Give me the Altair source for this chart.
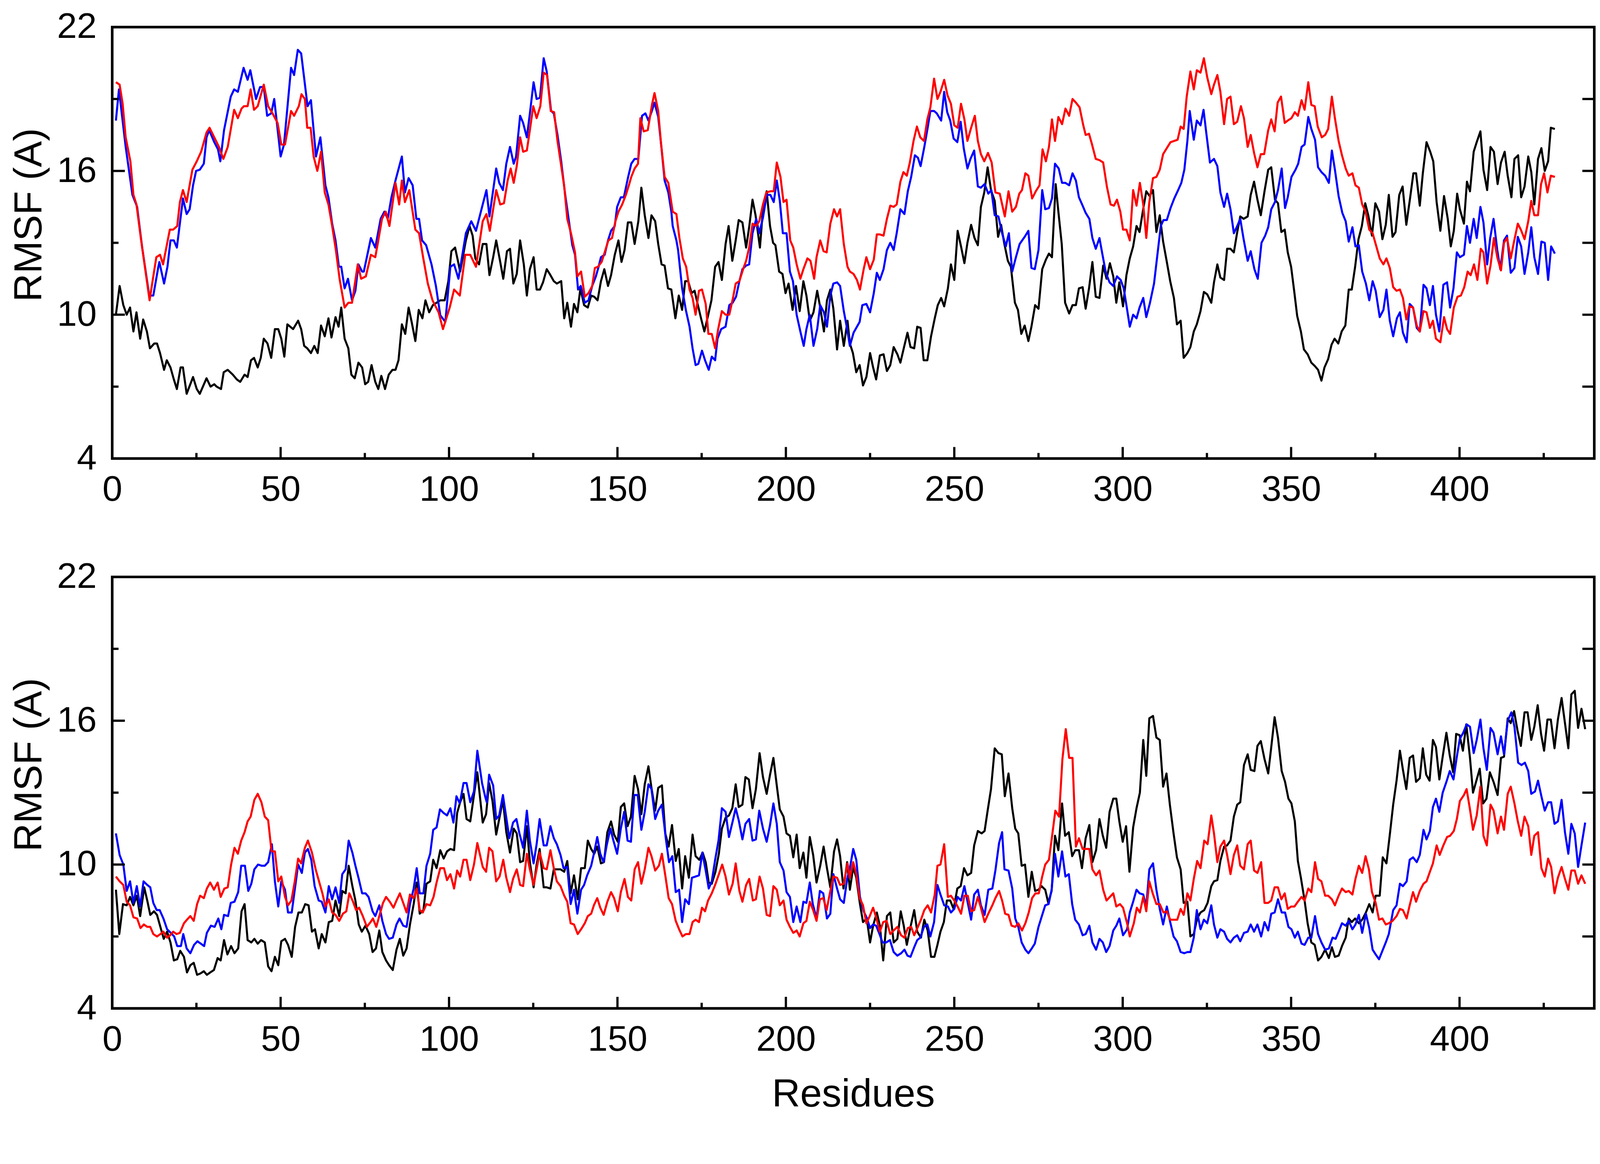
import altair as alt
import pandas as pd

# ---------------- data (residue, RMSF) ----------------
TOP_BLACK = [(1.1,10.0),(2.2,11.2),(3.3,10.4),(4.3,10.0),(5.3,10.3),(6.3,9.3),(7.2,10.1),(8.3,9.0),(9.2,9.8),(10.3,9.3),(11.2,8.6),(12.5,8.8),(13.3,8.8),(14.2,8.4),(15.4,7.7),(16.2,8.1),(17.3,7.8),(18.3,7.3),(19.2,6.9),(20.3,7.8),(21,7.8),(22.1,6.7),(24,7.4),(25.1,6.9),(26,6.7),(28,7.35),(29.2,7.0),(30.3,7.1),(31,7.0),(32.3,6.9),(33.1,7.6),(34.3,7.7),(35.8,7.5),(37,7.3),(38,7.2),(39.3,7.5),(40.2,7.4),(41.2,8.1),(42.1,8.2),(43.2,7.8),(44.1,8.2),(45,9.0),(46.1,8.8),(47.2,8.2),(48.3,9.4),(49.3,9.4),(50.2,9.0),(51.1,8.25),(52,9.6),(53.7,9.4),(55.2,9.75),(56.1,9.4),(57,8.7),(57.9,8.6),(59,8.4),(60,8.7),(61,8.4),(62,9.55),(63.1,9.1),(64.2,9.85),(65.1,9.05),(66.3,9.9),(67.2,9.5),(68,10.3),(69,9.0),(70.1,8.6),(71,7.5),(72,7.35),(73.1,8.0),(74.2,7.8),(75.1,7.1),(76,7.2),(77,7.9),(78.1,7.2),(79,6.9),(79.9,7.45),(81,6.9),(82.1,7.5),(83.2,7.7),(84.1,7.7),(85,8.1),(86,9.6),(87,9.2),(88,10.3),(88.9,9.7),(90,8.9),(91,10.2),(92.1,9.85),(93,10.6),(94.1,10.1),(95.2,10.4),(96.3,10.5),(97.4,10.6),(98.7,10.6),(99.8,11.4),(100.7,12.65),(101.8,12.8),(103.3,11.8),(105,13.1),(106.1,13.7),(107,13.3),(107.8,12.35),(108.9,12.1),
 (110,12.95),(111.1,12.95),(112,11.65),(113.1,12.4),(114,13.1),(115.2,12.2),(116.1,11.5),(117.2,12.65),(118.1,12.75),(119.1,11.3),(120.1,11.7),(121.1,13.1),(122.2,12.1),(123.1,10.8),(124,11.9),(125.1,12.4),(126,11.05),(127,11.05),(127.9,11.35),(129,11.9),(129.9,11.7),(131.1,11.4),(132,11.3),(133.3,11.4),(134.2,9.85),(135.1,10.5),(136.2,9.5),(137.1,10.45),(138.1,10.1),(139,11.1),(140.1,10.4),(141.2,10.3),(142.2,10.8),(143.1,10.75),(144.1,10.6),(145.1,11.4),(146.1,11.9),(147.2,11.2),(148.1,11.65),(149.2,12.5),(150.3,13.1),(151.2,12.2),(152.1,12.7),(153.1,13.85),(154.1,13.85),(155.1,12.95),(156.2,13.9),(157.1,15.3),(158.1,14.15),(159.2,13.2),(160.1,14.15),(161.2,13.9),(162.1,12.95),(163.1,12.1),(164,12.05),(165,11.1),(166,11.05),(167.2,9.85),(168.2,10.8),(169.2,10.2),(170.1,11.4),(171,11.4),(172,10.9),(172.9,11.0),(173.8,10.45),(174.9,9.8),(175.8,9.3),(176.8,9.9),(177.9,10.6),(179,12.0),(180,12.2),(181,11.45),(182.1,12.95),(183,13.7),(184.1,12.25),(185.1,13.1),(186,13.95),(187.1,13.85),(188.2,12.8),(189.1,13.65),(190.1,14.8),(191,14.15),(192.3,12.8),(193.2,14.4),(194.3,15.15),(195.3,13.7),(196.2,13.0),(196.9,12.9),(198,11.8),(199,11.7),(199.9,10.9),(200.8,11.3),(202,10.2),(203,11.2),(204.1,10.15),(205.2,11.4),(206.1,10.8),(207.1,9.75),(208.2,10.1),(209.3,11.0),(210.2,10.3),(211.3,9.3),(212.2,10.6),(213.2,11.05),(214.1,10.25),(215.2,8.55),(216.1,9.75),(217.2,8.7),(218.3,9.75),
 (219,8.8),(219.9,8.4),(220.9,7.6),(221.9,7.9),(222.9,7.05),(223.9,7.4),(225,8.4),(225.9,7.8),(226.8,7.3),(227.9,8.3),(229,8.35),(230,7.65),(231,7.9),(232,8.65),(233.1,8.35),(234,8.0),(235,8.6),(236.1,9.25),(237,8.65),(238.1,8.6),(239,9.5),(240,9.45),(240.9,8.1),(242,8.1),(243.1,9.1),(244.2,9.85),(245.1,10.4),(246.1,10.7),(247,10.35),(248.1,11.1),(249,12.1),(250,11.45),(251,13.5),(252,12.85),(253,12.15),(253.9,13.0),(255,13.75),(256,13.2),(257,12.9),(257.9,14.5),(258.9,15.1),(259.9,16.15),(260.9,15.2),(262,14.75),(263,13.25),(263.9,13.75),(264.8,13.0),(265.9,12.25),(266.8,12.0),(268,10.5),(268.9,10.2),(269.9,9.2),(270.9,9.55),(272,8.9),(272.9,9.5),(274,10.4),(275,10.25),(276.1,11.9),(277.2,12.3),(278.1,12.55),(279,12.4),(280.1,15.45),(280.9,14.3),(281.9,12.95),(282.9,10.5),(284.1,10.05),(285.1,10.4),(286.1,10.4),(287,11.1),(288.1,11.15),(289,10.25),(290,11.1),(291,12.2),(292,10.75),(293.1,10.7),(294.2,12.05),(295.2,11.5),(296.2,12.15),(297.2,11.6),(298.1,10.5),(299,11.35),(300.1,10.35),(301.1,11.65),(302.1,12.35),(303.1,12.85),(304.1,13.7),(305,13.45),(305.9,14.25),(307,15.15),(308,14.95),(309,15.2),(310,13.45),(311,14.15),(312,13.05),(313.1,12.2),(314.1,11.4),(315.2,10.7),(316.1,9.6),(317.2,9.75),(318.1,8.2),(319.2,8.4),(320.1,8.65),(321.1,9.3),(322,9.6),(323.1,10.15),(324.1,10.95),(325.1,10.85),
 (326.3,10.5),(327.1,11.35),(328.1,12.1),(329,11.55),(330.1,11.45),(331,12.75),(332,12.75),(333,12.6),(334,13.45),(334.9,14.1),(335.9,14.0),(337.1,14.1),(338,15.0),(339,15.55),(340,14.8),(341,14.15),(342.1,15.15),(343.2,16.05),(344.1,16.15),(345.2,14.8),(346.1,14.65),(347.1,13.45),(348.1,13.55),(349,12.6),(350,12.0),(350.9,11.0),(351.8,9.95),(352.9,9.3),(353.8,8.55),(354.9,8.35),(356,8.0),(357.1,7.85),(358,7.7),(359,7.25),(359.9,7.8),(361,8.15),(362,8.75),(362.9,9.0),(364,8.8),(365,9.3),(366.1,9.55),(367.1,11.05),(368,11.05),(369,12.0),(370,13.15),(371,13.7),(372,14.65),(372.9,14.15),(374,13.3),(375,14.65),(376.1,14.3),(377.1,13.15),(378.1,13.75),(379,15.0),(380.1,13.25),(381,13.45),(382.1,15.0),(383.1,15.35),(384.2,13.75),(385.3,14.85),(386.3,15.9),(387.1,15.9),(388.2,14.55),(389.1,15.9),(390.2,17.2),(391.3,16.8),(392.2,16.4),(393.2,14.7),(394.3,13.5),(395.4,14.95),(396.5,14.0),(397.4,12.85),(398.3,13.5),(399.3,15.05),(400.1,14.4),(401.3,13.8),(402.2,15.55),(403.1,15.15),(404.2,16.8),(405.1,17.2),(406.2,17.65),(407.1,16.05),(408.2,15.2),(409.2,17.0),(410.2,16.8),(411.3,15.45),(412.3,16.35),(413.4,16.8),(414.3,15.8),(415.4,14.9),(416.3,16.5),(417.4,16.65),(418.3,14.9),(419.3,15.35),(420.4,16.6),(421.3,15.95),(422.2,14.6),(423.3,16.5),(424.3,16.95),(425.3,16.0),(426.3,16.4),(427.1,17.8),(428.3,17.75)]

TOP_BLUE = [(1.1,18.1),(2,19.4),(4,17.0),(6,15.0),(7.4,14.5),(8.9,12.8),(11,10.8),(12.2,10.8),(13.7,12.0),(14,12.2),(15.4,11.3),(16.4,12.0),(17.3,13.1),(18.3,13.1),(19.2,12.8),(20.7,14.5),(21,14.85),(22.1,14.2),(23,14.4),(24,15.4),(24.9,16.0),(26,16.05),(27.2,16.3),(28,17.4),(28.8,17.7),(30.3,17.2),(31.4,16.9),(32.1,16.4),(33.2,17.7),(35.2,19.1),(36.2,19.4),(37.3,19.3),(39,20.3),(40.2,19.8),(41,20.2),(42.7,19.0),(43.9,19.5),(45,19.5),(46,18.3),(47.2,18.4),(48.1,19.0),(50,16.6),(51,17.1),(53.1,20.3),(54,20.0),(55.1,21.05),(56.1,20.9),(58,18.7),(59,18.95),(60.5,16.6),(61.8,17.4),(63.3,15.4),(64.2,14.9),(65.3,13.8),(66.3,13.1),(67.3,12.0),(68,12.0),(69,11.1),(70,11.5),(71.2,10.6),(72.2,11.0),(73.1,12.1),(74.2,11.8),(74.7,11.8),(76.8,13.2),(78.1,12.8),(79.7,14.0),(80.8,14.3),(81.8,14.0),(82.9,14.9),(84.1,15.6),(86,16.6),(86.9,15.1),(88,15.7),(89.2,15.4),(90.3,14.0),(91.1,14.0),(92,13.1),(93.2,12.9),(94.8,12.1),(96.1,11.2),(97.4,9.98),(98.9,9.7),(100.4,12.0),(101.5,12.1),(102.8,11.5),(105,13.4),(106.6,13.9),(108,13.5),
 (110,14.6),(111.1,15.2),(112,14.1),(112.9,15.0),(114,16.1),(114.9,15.5),(116,15.2),(117,16.3),(118.1,17.0),(119.2,16.3),(119.9,16.6),(121.1,18.3),(122,18.0),(123.1,17.4),(124,18.4),(125.1,19.7),(126,19.0),(127,19.05),(128.1,20.7),(129,20.15),(130.3,18.5),(131.1,18.4),(132.2,17.5),(133.3,16.4),(134.4,15.1),(135.5,14.0),(136.6,12.9),(137.4,12.5),(138.3,11.05),(139.1,11.2),(140.3,10.5),(141.4,10.6),(142.5,11.2),(143.6,11.6),(144.4,12.0),(145.1,12.4),(146.2,12.5),(147.2,13.1),(148.1,13.5),(149.2,13.7),(149.9,14.5),(151,14.9),(151.9,14.9),(153.1,15.7),(154.1,16.3),(155.1,16.5),(156.2,16.5),(157.3,18.3),(158.3,18.4),(159.2,18.1),(160.1,18.45),(161,18.85),(162.1,18.25),(163,17.05),(164,15.6),(165.1,15.1),(166,14.3),(166.4,13.7),(167.5,13.1),(168,12.7),(169.2,11.1),(170.3,10.2),(171.4,9.5),(172.3,8.6),(173.2,7.9),(174,7.95),(175.1,8.5),(176,8.1),(177.1,7.7),(178,8.25),(179,8.1),(179.7,9.0),(180.8,9.4),(182.1,9.5),(183.2,10.4),(184.2,10.5),(185.2,10.75),(186.2,11.4),(187.1,11.9),(188.2,12.05),(189.1,12.1),(190.1,13.4),(191.2,14.0),(192.1,13.4),(193.2,14.05),(194.3,15.0),(195.4,15.0),(196.4,14.7),(197.3,15.6),(198.2,14.75),(199.1,13.4),(200.2,13.4),(201.2,11.8),(202.1,11.4),(203.2,10.0),(204.3,9.3),(205.3,8.7),(206.1,9.4),(207.1,10.0),(208.2,8.7),(209.3,9.4),(210.2,10.4),(211.3,10.1),(212.2,9.5),(213.2,10.8),(214.1,11.3),(215.2,11.35),(216.1,11.2),(217.2,10.15),(218.2,9.4),
 (219,8.7),(220.1,9.25),(221.9,9.7),(222.7,10.4),(223.9,10.45),(225,10.1),(226.1,10.9),(227,11.75),(227.9,11.45),(229,11.9),(230,12.7),(231,13.0),(232,12.7),(232.9,13.4),(234,14.4),(235.2,14.2),(236.2,15.15),(237.2,15.75),(238.3,16.65),(239.2,16.55),(240,16.2),(241.1,17.0),(242.1,17.8),(242.9,18.5),(244,18.5),(244.8,18.4),(246.1,18.1),(247,19.3),(247.9,18.45),(248.8,18.1),(249.8,17.35),(250.9,17.2),(251.9,18.05),(252.8,16.95),(253.9,16.1),(254.8,16.5),(255.9,16.85),(257,15.35),(257.9,15.3),(259,15.45),(260.1,15.05),(261,15.2),(262,14.15),(263.1,14.1),(264.2,13.4),(265.3,12.85),(266.2,13.4),(267.2,11.8),(268.3,12.4),(269.4,12.95),(270.9,13.25),(272,13.5),(272.9,11.95),(273.9,11.9),(275,12.7),(276.1,15.2),(277,14.4),(278.1,14.45),(279,14.85),(279.9,16.3),(281,16.1),(282,15.5),(283,15.5),(284.1,15.4),(285.1,15.9),(286.1,15.6),(287,14.9),(288.1,14.55),(289,14.25),(290.1,14.0),(291,13.2),(292,12.75),(293.1,13.2),(294,12.5),(295,11.75),(296.1,11.35),(297.2,11.2),(298.3,11.6),(299.4,11.45),(300.3,11.1),(301.1,10.4),(302.1,9.5),(303.1,10.0),(304.1,9.85),(305,10.3),(306.1,10.7),(307,9.9),(308.1,10.5),(309.3,11.3),(310.3,12.5),(311.3,13.7),(312.1,13.95),(313.1,13.95),(314.2,14.45),(315.3,14.85),(316.3,15.15),(317.4,15.5),(318.3,16.05),(319.2,17.25),(319.9,18.5),(321.1,17.3),(322,18.1),(323.1,17.9),(324,18.55),(324.8,17.6),(325.9,16.35),
 (327.1,16.5),(328.1,16.2),(329,15.1),(330.1,14.5),(331,15.05),(332,14.4),(333,13.4),(334,13.7),(334.9,14.0),(335.9,13.15),(337.1,12.25),(338,12.65),(339.1,11.9),(340.1,11.5),(341.2,13.0),(342.3,13.3),(343.2,13.65),(344.1,14.4),(345.2,14.7),(346.1,15.2),(347.2,16.1),(348.2,14.45),(349,14.9),(350.1,15.75),(351.3,16.05),(352.1,16.3),(353.1,17.0),(354,17.1),(355.1,18.25),(356,17.75),(357.1,17.3),(358,16.15),(359,15.95),(360.1,15.8),(361.2,15.5),(362.1,16.85),(363,16.05),(364.1,14.95),(365.2,14.25),(366.2,13.9),(367.1,13.05),(368.2,13.65),(369.1,12.85),(370.1,12.9),(371.1,11.8),(372.2,11.3),(373.2,10.6),(374.2,11.4),(375.1,11.0),(376.3,9.9),(377.4,10.2),(378.3,11.05),(379.3,9.75),(380.3,9.1),(381.4,9.85),(382.3,10.1),(383.2,9.25),(384.3,8.85),(385.2,10.45),(386.2,10.3),(387.3,9.45),(388.2,9.3),(389.3,11.25),(390.2,11.1),(391.2,10.4),(392.1,11.2),(393,10.0),(394,9.3),(395.2,11.25),(396.3,11.35),(397.2,10.3),(398.2,11.1),(399.2,12.6),(400.1,12.4),(401.3,12.5),(402.2,13.7),(403.1,13.0),(404.2,14.0),(405.1,13.2),(406.2,14.5),(407.1,13.85),(408.2,12.1),(409.1,13.2),(410.1,14.0),(411.2,12.7),(412.1,11.9),(413.2,13.1),(414.1,13.3),(415.2,11.75),(416.3,11.95),(417.3,13.25),(418.3,12.85),(419.3,11.7),(420.4,12.6),(421.3,13.65),(422.2,12.4),(423.3,11.7),(424.3,13.05),(425.3,13.0),(426.3,11.45),(427.2,12.85),(428.3,12.55)]

TOP_RED = [(1.1,19.7),(2.2,19.6),(3.1,18.8),(4,17.4),(5.4,16.4),(6.3,15.0),(7.2,14.6),(8.5,13.2),(9.6,12.1),(11.1,10.6),(12.2,11.6),(13.1,12.4),(14.2,12.5),(15.1,12.1),(17.1,13.55),(18.1,13.55),(19.3,13.7),(20.1,14.7),(21,15.2),(22.1,14.7),(23.8,16.05),(25.1,16.4),(26.4,16.8),(28,17.6),(28.9,17.8),(30.3,17.4),(31.7,17.0),(33,16.5),(34.3,17.0),(36.2,18.55),(37.3,18.2),(38.4,18.6),(39.1,18.7),(40.2,18.7),(41.1,19.4),(42.1,18.55),(43.2,18.7),(45,19.6),(46.3,18.7),(47.6,18.4),(49.1,18.0),(50.2,17.1),(51.3,17.1),(53.1,18.5),(54,18.3),(55.4,18.7),(56.2,19.2),(57.2,19.0),(57.9,17.8),(58.9,17.8),(59.8,16.6),(60.9,16.0),(62,16.8),(63.1,15.1),(64.2,14.6),(65.3,13.7),(66.4,12.7),(67.5,11.5),(69,10.3),(70.1,10.5),(71.2,10.5),(72.9,12.1),(73.9,11.5),(75.3,11.6),(76.8,12.5),(78.1,12.4),(79,13.1),(80.1,14.0),(81.2,14.3),(82.3,13.7),(84.1,15.5),(85.2,14.6),(86,15.6),(86.9,14.7),(88.2,15.2),(90,13.55),(91.1,13.4),(92.3,12.4),(93.7,11.3),(95.1,10.6),(96.9,10.1),(98.2,9.4),(100.2,10.3),(101.5,11.05),(103.2,10.8),(104.8,12.5),(106.3,12.5),(108,12.0),
 (110,13.9),(111.1,14.2),(112.1,13.5),(113.1,14.4),(114,15.2),(115.2,14.6),(116.3,14.65),(117.4,15.6),(118.3,16.1),(119.2,15.5),(120.1,16.2),(121.1,17.4),(122,16.8),(123.1,16.85),(124,17.7),(125,18.7),(126,18.2),(127.1,18.7),(128.1,20.1),(129.1,20.0),(130.2,18.5),(131.2,18.45),(132.2,17.25),(133.1,16.4),(134.2,15.35),(135.1,14.0),(136.2,13.4),(137.4,12.6),(138.1,11.6),(139.2,11.8),(140.3,10.75),(141.4,10.9),(142.5,11.2),(143.3,11.95),(144.2,12.0),(145.3,12.2),(146.2,12.6),(147.3,13.1),(148.4,13.2),(149.4,13.9),(150.3,14.3),(151.4,14.6),(152.5,15.0),(153.5,15.45),(154.1,15.75),(155.1,16.1),(156.1,16.3),(156.8,18.2),(157.8,17.65),(159,17.7),(160.3,18.8),(161,19.25),(162.1,18.5),(162.9,17.2),(164,15.75),(165.1,15.5),(166.4,14.3),(167.5,14.2),(168.4,13.2),(169.4,12.35),(170.4,12.0),(171.4,11.05),(172.3,10.7),(173.2,10.0),(174.2,11.0),(175.1,11.05),(176.2,10.45),(177,9.2),(178,9.2),(179,8.6),(179.9,9.4),(181,10.15),(182.1,10.0),(183.2,10.0),(184.3,10.7),(185.1,11.3),(186.2,11.4),(187.3,11.9),(188.2,12.25),(189.1,12.8),(190.1,13.8),(191.2,13.7),(192.1,13.9),(193.2,14.6),(194.2,15.1),(195.4,15.15),(196.4,15.15),(197.3,16.35),(198.4,15.75),(199.3,14.7),(200.2,14.8),(201.3,13.1),(202.2,12.8),(203.2,12.1),(204.3,11.5),(205.2,11.9),(206.4,12.35),(207.3,12.25),(208.4,11.5),(209.1,12.4),(210.2,13.1),(211.2,12.65),(212.1,12.6),(213.2,13.8),(214.3,14.4),(215.2,14.1),(216.1,14.4),(217.2,12.95),(218.3,12.0),
 (219,11.8),(220.1,11.7),(221.1,11.45),(222,11.05),(223.1,11.9),(223.9,12.4),(225,11.9),(226.1,12.3),(227,13.35),(227.9,13.35),(229,13.3),(230,14.0),(231,14.55),(232,14.5),(232.9,14.6),(234,15.55),(234.9,15.95),(235.9,15.8),(236.8,16.35),(237.9,17.25),(238.9,17.85),(239.9,17.4),(241,17.25),(242,18.15),(242.9,18.65),(244,19.85),(245,19.0),(245.9,19.3),(247,19.8),(248,19.15),(249,18.8),(250,17.9),(251,17.8),(252,18.8),(253,18.15),(253.9,17.25),(255,17.8),(256.1,18.3),(257,17.25),(257.9,16.7),(258.9,16.4),(260,16.75),(261.1,16.35),(262.2,15.1),(263.5,15.05),(265,14.1),(266.1,15.15),(267.2,14.3),(268.3,14.5),(269.3,15.05),(270.1,15.2),(271.1,15.9),(272,15.8),(273.1,14.85),(274.2,15.15),(275.3,15.4),(276.2,16.9),(277.2,16.4),(278.1,17.0),(279,18.15),(279.9,17.25),(280.9,18.25),(282,17.95),(283,18.6),(284.1,18.3),(285.1,19.0),(286.1,18.85),(287.2,18.65),(288.3,17.9),(289,17.5),(290,17.55),(290.9,17.1),(292,16.5),(293.1,16.45),(294.2,16.35),(295.3,15.35),(296.4,14.6),(297.4,14.55),(298.3,14.8),(299.3,14.3),(300.1,13.55),(301.1,13.55),(302.1,13.1),(303.1,15.2),(304.1,14.55),(305.1,15.5),(306.1,14.6),(307,13.2),(307.9,14.7),(309,15.7),(310,15.75),(311,16.05),(312,16.7),(313.1,16.95),(314.2,17.2),(315.3,17.25),(316.3,17.3),(317.2,17.85),(318.1,17.75),(319,19.1),(320.1,20.15),(321.1,19.4),(322,20.2),(323.1,20.1),(324.1,20.7),(325.1,19.9),
 (326.3,19.2),(327.1,19.6),(328.1,20.0),(329,19.3),(330.1,17.95),(331,19.0),(332,19.1),(333,17.95),(334,18.05),(335.1,18.7),(336,18.2),(337.1,17.0),(338,17.5),(339,16.75),(340,16.15),(341,16.7),(342,16.7),(343.2,17.7),(344.1,18.15),(345.1,17.65),(346,18.85),(347,19.1),(348.1,18.0),(349,18.1),(350.1,18.2),(351.1,18.45),(352,18.3),(353.1,18.95),(354,18.55),(355.1,19.7),(356,18.75),(357,18.7),(357.9,17.85),(359.1,17.4),(360.1,17.5),(361,17.75),(362.1,19.1),(363,18.2),(364.1,17.25),(365.1,16.65),(366.2,16.1),(367.1,15.8),(368.2,15.9),(369.1,15.4),(370.1,15.3),(371.1,14.6),(372.1,14.3),(373.2,13.55),(374.2,13.4),(375.1,12.95),(376.3,12.35),(377.4,12.1),(378.3,12.35),(379.3,11.95),(380.3,11.15),(381.3,11.0),(382.3,11.05),(383.2,10.7),(384.2,9.8),(385.1,10.35),(386.2,10.3),(387.3,9.55),(388.2,9.3),(389.3,10.15),(390.2,10.1),(391.2,9.45),(392.1,9.75),(393,9.0),(394.3,8.85),(395.4,9.9),(396.3,9.4),(397.2,9.2),(398.3,10.3),(399.4,10.75),(400.4,10.8),(401.4,11.15),(402.4,11.8),(403.3,11.65),(404.3,12.1),(405.3,11.45),(406.3,12.75),(407.1,12.6),(408.2,11.3),(409.2,12.05),(410.2,13.2),(411.2,12.4),(412.3,11.85),(413.2,13.0),(414.1,13.2),(415.2,12.35),(416.1,13.0),(417.3,13.8),(418.2,13.55),(419.3,13.15),(420.4,13.9),(421.3,14.75),(422.2,14.15),(423.3,14.15),(424.2,15.45),(425.1,15.9),(426.1,15.1),(427.1,15.8),(428.3,15.75)]

BOT_BLACK = [(1.1,8.95),(2.1,7.1),(3.2,8.35),(4.3,8.3),(5.3,8.65),(6.3,8.3),(7.3,8.7),(8.3,7.85),(9.5,9.05),(10.4,8.5),(11.3,7.9),(12.4,8.05),(13.3,7.9),(14.3,7.4),(15.3,6.9),(16.3,7.2),(17.3,6.75),(18.3,6.0),(19.3,6.05),(20.2,6.4),(21.3,6.15),(22.2,5.5),(23.2,5.8),(24.2,5.9),(25.2,5.4),(26.1,5.45),(27.2,5.55),(28.1,5.4),(29.1,5.5),(30.2,5.6),(31.3,6.1),(32.2,6.0),(33.2,6.85),(34.2,6.25),(35.3,6.6),(36.3,6.3),(37.4,6.5),(38.4,8.05),(39.3,8.35),(40.2,6.85),(41.3,6.75),(42.2,6.9),(43.2,6.7),(44.2,6.85),(45.3,6.75),(46.3,5.75),(47.3,5.55),(48.3,6.15),(49.3,5.8),(50.2,6.8),(51.3,6.9),(52.2,6.65),(53.3,6.15),(54.3,7.4),(55.3,8.0),(56.3,8.0),(57.3,8.35),(58.3,8.3),(59.3,7.2),(60.2,7.3),(61.3,6.5),(62.2,7.1),(63.3,6.75),(64.3,7.6),(65.3,7.65),(66.3,8.5),(67.4,7.85),(68.3,8.9),(69.3,8.8),(70.2,9.95),(71.3,9.1),(72.2,8.5),(73.2,7.5),(74.1,7.2),(75.2,7.45),(76.3,7.1),(77.3,6.35),(78.3,6.5),(79.3,7.25),(80.2,6.35),(81.3,6.0),(82.2,5.8),(83.3,5.6),(84.4,6.45),(85.4,6.9),(86.4,6.2),(87.4,6.5),(88.4,7.5),(89.5,8.35),(90.4,9.25),(91.3,7.95),(92.4,8.1),(93.3,9.2),(94.4,9.3),(95.3,10.2),(96.3,9.85),(97.4,10.6),(98.4,10.25),(99.4,10.55),(100.4,10.65),(101.5,10.6),(102.4,12.15),(103.3,12.6),(104.3,12.95),(105.2,11.9),(106.3,11.8),(107.4,12.9),(108.4,13.85),
 (110,11.75),(111,12.1),(111.9,13.4),(112.9,12.65),(114,11.25),(114.9,11.9),(116,12.7),(117,11.35),(118.1,10.5),(119.2,11.5),(120.1,11.3),(121.1,10.1),(122,10.15),(123.1,11.6),(124,10.1),(125.1,9.05),(126,10.0),(126.9,10.65),(128.1,9.05),(129,9.05),(130.1,9.0),(131.1,9.8),(132.2,9.8),(133.1,9.8),(134.2,9.7),(135.1,10.15),(136.1,8.8),(137.1,9.55),(138.2,8.55),(139.2,9.85),(140.3,9.85),(141.2,11.0),(142.2,10.65),(143.1,10.45),(144,10.75),(145.1,10.05),(146,10.1),(147,11.35),(148.1,11.8),(149,11.25),(150.1,10.95),(151,12.4),(152,12.55),(153,11.6),(154,12.0),(155.1,13.7),(156.1,13.15),(157.1,12.1),(158.1,13.35),(159.2,14.1),(160.1,13.2),(161.2,12.25),(162.1,13.2),(163.2,13.3),(164.2,11.3),(165.2,10.75),(166.2,11.65),(167.3,10.15),(168.2,10.65),(169.2,9.0),(170.1,10.35),(171.2,9.45),(172.3,11.25),(173.2,10.35),(174.3,10.2),(175.3,10.5),(176.2,10.1),(177.1,9.25),(178,9.2),(179.1,9.7),(180.1,10.45),(181,11.5),(182.1,11.95),(183.1,12.05),(184.1,12.35),(185.1,13.35),(186,12.4),(187.1,12.5),(188,13.65),(189,13.55),(190.1,12.35),(191.1,13.15),(192.2,14.65),(193.2,13.65),(194.3,12.95),(195.3,13.75),(196.3,14.45),(197.3,13.3),(198.2,12.3),(199.3,12.0),(200.2,11.3),(201.2,11.2),(202.2,10.3),(203.2,11.25),(204.1,9.85),(205.2,10.5),(206.1,9.45),(207.1,11.15),(208.1,10.4),(209.1,9.25),(210.2,9.95),(211.2,10.75),(212.2,9.85),(213.2,9.05),(214.3,10.55),(215.2,11.05),(216.1,10.35),(217.1,9.0),(218.2,10.1),
 (219,8.95),(220,9.9),(220.9,9.45),(222,8.35),(222.9,7.6),(224,7.75),(225,6.75),(225.9,7.45),(227,8.0),(227.9,7.45),(228.9,6.0),(230,7.85),(231,8.0),(232,6.75),(233.1,6.9),(234.1,8.05),(235,7.45),(235.9,6.65),(237,7.4),(238.1,8.1),(239,7.2),(240.1,6.95),(241.1,7.7),(242.1,7.25),(243.1,6.15),(244.1,6.15),(245,6.65),(245.9,7.2),(246.9,7.6),(247.8,8.5),(248.8,8.5),(249.8,8.15),(250.9,9.0),(251.9,9.1),(252.9,9.85),(253.9,9.55),(255,9.65),(255.9,10.8),(257,11.4),(258.1,11.3),(259,11.4),(259.9,12.25),(260.9,13.15),(262,14.85),(263.1,14.65),(264.1,14.6),(265,12.85),(266.1,13.8),(267.2,12.35),(268.1,11.5),(269,11.3),(270,9.95),(271,10.0),(272,8.65),(273,9.7),(274,8.9),(275,8.95),(275.9,9.1),(277,8.95),(277.9,8.4),(278.9,8.9),(279.9,11.2),(280.9,10.6),(282,12.55),(282.9,11.2),(284,11.35),(285,10.35),(285.9,10.6),(287,10.6),(287.9,9.85),(289,11.1),(290.1,11.65),(291,10.1),(292.1,10.6),(293.1,11.9),(294.1,11.2),(295.1,10.7),(296.1,12.2),(297.2,12.75),(298.1,12.75),(299,11.8),(300,10.95),(301,11.6),(302,9.7),(303.1,11.55),(304.1,12.35),(305.1,13.0),(306.1,15.2),(307,13.7),(307.9,16.1),(309,16.2),(310,15.3),(311,15.2),(312,13.25),(313,13.8),(314,12.5),(315.1,11.3),(316.1,10.3),(317.2,9.8),(318.1,8.4),(319.2,8.45),(320.1,7.0),(321.1,7.1),(322.1,7.75),(323.1,8.0),(324.2,8.1),(325.2,8.4),
 (326.3,9.1),(327.1,9.3),(328.1,9.35),(329,10.15),(330.1,10.75),(331,10.8),(332,11.0),(333,12.0),(334,12.5),(334.9,12.6),(336,14.15),(337.1,14.6),(338,13.95),(339.1,13.9),(340,14.95),(341,15.15),(342.1,14.4),(343.2,13.8),(344.1,14.9),(345.1,16.15),(346.1,15.3),(347.2,13.9),(348.2,13.45),(349.2,12.75),(350.1,12.55),(351.1,11.8),(352,10.15),(352.9,9.45),(354,8.5),(354.9,7.55),(356,6.75),(357,6.65),(358,6.0),(359,6.15),(360.1,6.45),(361.2,6.1),(362.1,6.55),(363,6.15),(364.1,6.2),(365.1,6.6),(366.2,6.95),(367.1,7.75),(368,7.6),(369,7.75),(370.1,7.55),(371.1,7.7),(372.2,8.0),(373.2,8.35),(374.2,8.0),(375.1,8.7),(376.3,8.7),(377.2,10.3),(378.3,10.05),(379.3,11.25),(380.3,12.5),(381.3,13.5),(382.3,14.75),(383.2,13.95),(384.2,13.15),(385.2,14.45),(386.2,14.55),(387.1,13.45),(388.2,13.6),(389.1,14.85),(390.1,13.75),(391.1,13.5),(392.1,15.2),(393,14.9),(394,13.55),(395,14.5),(396.1,15.5),(397.1,14.55),(398.1,13.85),(399,15.45),(400,15.4),(401,14.75),(402,15.85),(403.1,14.45),(404,13.0),(405.1,13.55),(406,14.0),(407,12.55),(408,12.75),(409,13.85),(410.1,13.45),(411.3,12.9),(412.3,14.45),(413.2,14.5),(414.3,16.1),(415.2,15.9),(416.2,16.4),(417.2,15.6),(418.2,14.95),(419.3,16.35),(420.2,16.35),(421.3,15.2),(422.2,15.75),(423.2,16.65),(424.2,15.45),(425.1,14.75),(426.1,16.05),(427.1,16.05),(428.2,14.85),(429.2,16.05),(430.3,16.95),(431.3,15.9),(432.3,14.85),(433.2,17.1),(434.2,17.25),(435.2,15.7),(436.2,16.5),(437.3,15.65)]

BOT_BLUE = [(1.1,11.3),(2.2,10.4),(3.3,10.0),(4.3,8.9),(5.3,9.3),(6.3,8.4),(7.3,9.1),(8.3,8.25),(9.3,9.3),(10.4,9.15),(11.3,9.05),(12.2,8.4),(13.2,8.1),(14.1,8.1),(15.2,7.75),(16.3,7.3),(17.4,7.15),(18.4,7.0),(19.3,6.6),(20.4,6.6),(21.1,7.1),(22.1,6.5),(23.2,6.3),(24.3,6.65),(25.3,6.8),(26.3,6.7),(27.3,6.6),(28.1,7.15),(29.3,7.45),(30.4,7.4),(31.5,7.75),(32.4,7.3),(33.2,7.9),(34.4,7.85),(35.2,8.4),(36.3,8.45),(37.4,8.85),(38.3,9.95),(39.4,9.95),(40.4,8.9),(41.3,9.2),(42.2,9.8),(43.3,10.0),(44.4,9.95),(45.3,9.95),(46.3,10.1),(47.4,10.85),(48.3,9.3),(49.3,8.25),(50.2,9.3),(51.3,8.95),(52.2,8.0),(53.3,8.0),(54.2,8.95),(55.2,10.0),(56.3,9.65),(57.2,10.5),(58.1,10.65),(59.1,10.2),(60.1,9.1),(61.3,8.5),(62.2,8.45),(63.3,8.0),(64.3,9.1),(65.3,8.55),(66.3,9.05),(67.4,8.4),(68.3,9.6),(69.3,9.8),(70.2,11.0),(71.3,10.5),(72.2,9.95),(73.2,9.4),(74.2,8.8),(75.2,8.8),(76.1,8.65),(77.3,8.05),(78.1,7.85),(79.3,8.3),(80.2,7.65),(81.3,7.1),(82.2,6.9),(83.3,6.95),(84.4,7.5),(85.3,7.75),(86.4,7.45),(87.4,7.4),(88.4,8.35),(89.5,9.0),(90.4,9.85),(91.3,8.8),(92.4,8.8),(93.3,9.95),(94.4,10.45),(95.3,11.45),(96.3,11.55),(97.3,12.3),(98.4,12.15),(99.4,12.05),(100.4,12.35),(101.3,11.75),(102.2,12.85),(103.2,12.55),(104.3,13.4),(105.2,13.4),(106.3,12.6),(107.4,13.05),(108.4,14.75),
 (109.8,13.4),(110.7,12.85),(111.2,12.6),(111.9,13.75),(113.1,13.3),(114,11.9),(114.9,12.05),(116,12.9),(117,11.95),(117.9,11.1),(119,11.75),(120,11.9),(120.9,11.3),(122,10.7),(123.1,12.25),(124,11.0),(125.1,10.05),(126,10.85),(126.9,11.9),(128.1,10.8),(129,10.8),(130.1,11.6),(131.1,11.1),(132,10.85),(133.1,10.4),(134,9.85),(135.1,9.9),(136.1,8.35),(137.1,8.95),(138.1,7.95),(139.2,8.95),(140.1,9.15),(141,9.55),(142.2,9.95),(143,10.45),(144,11.15),(144.9,10.45),(145.9,10.1),(146.8,10.8),(147.9,11.5),(148.8,11.0),(149.9,10.45),(151,11.5),(152,12.2),(153,11.0),(154,10.95),(155,12.9),(156,12.9),(157.1,11.45),(158.1,12.2),(159.2,13.35),(160.1,13.15),(161.2,11.9),(162.1,12.25),(163.2,12.5),(164.3,11.15),(165.3,10.1),(166.3,10.35),(167.3,8.85),(168.3,8.95),(169.2,7.6),(170.1,8.55),(171.2,8.35),(172.1,9.45),(173.2,9.5),(174.2,9.55),(175.2,10.5),(176.2,9.75),(177.1,9.0),(178,9.3),(179,10.2),(180,11.0),(181,12.35),(182.1,12.2),(183.1,11.15),(184.2,11.8),(185.1,12.35),(186,11.85),(187.1,11.05),(188,11.7),(189.1,11.9),(190.1,11.0),(191.1,11.05),(192.1,12.25),(193.2,11.5),(194.3,10.95),(195.3,11.65),(196.3,12.55),(197.3,11.7),(198.2,10.1),(199.3,9.75),(200.2,8.85),(201.2,8.65),(202.2,7.6),(203.2,8.25),(204.3,7.6),(205.2,8.45),(206.1,8.4),(207.1,9.25),(208,8.35),(209.1,7.75),(210.1,8.9),(211.1,8.8),(212.2,7.75),(213.2,7.95),(214.1,9.6),(215.2,9.0),(216.1,8.55),(217.2,8.4),(218.2,9.4),
 (219,9.85),(220,10.65),(220.9,10.2),(222,8.65),(223.1,8.05),(224.1,7.75),(225,7.35),(225.9,7.5),(226.8,7.45),(227.8,7.1),(228.7,6.75),(229.8,6.75),(230.9,6.85),(232,6.35),(233.1,6.2),(234.2,6.3),(235.2,6.45),(236.1,6.2),(237,6.15),(238.1,6.55),(239,6.85),(239.9,6.95),(241,7.4),(242,7.5),(242.9,7.0),(244,7.6),(245,9.15),(245.9,8.75),(247,8.3),(248.1,8.25),(249,8.0),(250,8.15),(251,8.65),(252,8.5),(253,9.1),(254,8.4),(255,7.7),(255.9,8.75),(257,8.95),(257.9,8.3),(259,7.9),(260.1,8.95),(261.3,9.0),(262.2,9.75),(263.3,10.9),(264.2,11.35),(264.9,9.8),(266.1,9.75),(267.2,9.0),(268.1,7.75),(269,7.4),(270,6.75),(271.1,6.45),(272,6.3),(273,6.5),(273.9,6.7),(275,7.4),(276,7.85),(277,8.3),(278,8.35),(278.9,8.95),(279.9,10.45),(280.9,9.5),(282,10.55),(283,9.5),(284,9.6),(285,8.35),(285.9,7.7),(287,7.5),(288.1,7.05),(289,7.1),(290.1,7.45),(291,6.75),(292.1,6.45),(293.1,6.9),(294.1,6.75),(295.1,6.35),(296.1,6.6),(297.2,7.25),(298.1,7.45),(299,7.75),(300.1,7.05),(301.3,7.3),(302.1,8.0),(303.1,8.45),(304.1,8.95),(305,8.8),(306.1,8.75),(307,8.25),(307.9,9.8),(309,10.05),(310,8.95),(311,8.15),(312,7.5),(313.1,8.25),(314.1,7.6),(315.1,7.0),(316.1,6.8),(317.2,6.35),(318.3,6.3),(319.2,6.35),(320.1,6.35),(321.1,6.95),(322,8.1),(323.1,7.3),(324.1,7.7),(325.1,7.55),
 (326.3,8.3),(327.1,7.5),(328.1,6.95),(329,7.3),(330.1,7.2),(331,6.9),(332,6.75),(333,6.95),(334,7.05),(334.9,6.8),(336,7.15),(337.1,7.2),(338,7.5),(339,7.2),(340,7.5),(341.1,7.0),(342.1,7.6),(343.2,7.25),(344.1,7.95),(345.1,8.0),(346.1,8.55),(347.2,8.0),(348.2,8.0),(349.2,7.4),(350.1,7.3),(351.1,6.95),(352,7.2),(353.1,6.7),(354,6.65),(355.1,6.95),(356,6.95),(357.1,7.85),(358,7.1),(359,6.75),(360.1,6.45),(361.2,6.5),(362.3,6.95),(363.2,6.9),(364.1,7.2),(365.1,7.55),(366.2,7.45),(367.1,7.65),(368.2,7.3),(369.1,7.5),(370.1,7.9),(371.1,7.15),(372.2,7.95),(373.2,7.35),(374.2,6.45),(375.1,6.25),(376.1,6.05),(377.1,6.4),(378.1,6.75),(379,7.1),(380.3,8.1),(381.3,8.3),(382.3,9.2),(383.2,9.1),(384.3,9.3),(385.2,10.2),(386.2,10.3),(387.3,10.1),(388.2,10.4),(389.3,11.45),(390.2,11.05),(391.2,11.4),(392.1,12.4),(393,12.75),(394,12.2),(395,13.0),(396.1,13.45),(397.1,13.9),(398.2,13.55),(399.2,14.5),(400.1,15.25),(401.1,15.5),(402.1,15.85),(403.1,15.75),(404.2,14.65),(405.1,15.2),(406.2,16.05),(407.1,14.85),(408.1,13.95),(409.2,15.7),(410.1,15.5),(411.3,14.6),(412.3,15.35),(413.2,14.6),(414.3,16.0),(415.4,16.35),(416.3,15.75),(417.4,14.25),(418.4,14.15),(419.4,14.25),(420.4,13.9),(421.3,12.95),(422.4,13.05),(423.3,13.5),(424.3,12.85),(425.3,12.25),(426.3,12.6),(427.2,12.6),(428.2,11.7),(429.2,11.8),(430.3,12.7),(431.3,11.35),(432.3,10.45),(433.2,11.7),(434.2,11.3),(435.2,9.9),(436.2,10.8),(437.3,11.75)]

BOT_RED = [(1.1,9.5),(2.2,9.3),(3.3,9.15),(4.3,8.45),(5.3,8.3),(6.3,7.8),(7.4,7.75),(8.4,7.35),(9.4,7.5),(10.4,7.4),(11.3,7.4),(12.2,7.1),(13.3,7.0),(14.3,7.1),(15.2,7.2),(16.3,6.95),(17.2,7.05),(18.1,7.2),(19.1,7.1),(20.1,7.15),(21.3,7.55),(22.2,7.7),(23.2,7.85),(24.2,7.65),(25.2,8.35),(26.1,8.7),(27.2,8.6),(28.1,9.0),(29.1,9.25),(30.2,8.95),(31.3,9.25),(32.2,8.65),(33.3,9.0),(34.3,9.05),(35.3,10.0),(36.3,10.7),(37.3,10.45),(38.3,11.0),(39.3,11.35),(40.2,11.8),(41.1,12.0),(42.2,12.7),(43.2,12.95),(44.3,12.6),(45.3,12.0),(46.3,11.85),(47.3,10.55),(48.3,10.55),(49.3,9.3),(50.2,9.5),(51.3,8.65),(52.2,8.3),(53.2,8.5),(54.2,9.3),(55.2,10.25),(56.1,10.05),(57.2,10.7),(58.1,11.0),(59.3,10.5),(60.4,9.8),(61.3,9.35),(62.4,8.8),(63.3,8.25),(64.3,8.55),(65.3,8.0),(66.3,7.9),(67.4,7.65),(68.5,7.95),(69.5,8.05),(70.4,8.8),(71.5,8.45),(72.4,8.1),(73.3,8.2),(74.4,7.85),(75.6,7.4),(76.7,7.6),(77.4,7.75),(78.4,7.4),(79.4,7.9),(80.4,8.4),(81.3,8.65),(82.4,8.45),(83.5,8.2),(84.4,8.5),(85.4,8.8),(86.4,8.4),(87.4,8.0),(88.4,8.75),(89.5,8.6),(90.4,9.0),(91.3,8.1),(92.2,8.0),(93.3,8.35),(94.4,8.3),(95.4,8.65),(96.3,9.25),(97.4,9.85),(98.5,9.85),(99.4,9.35),(100.4,9.6),(101.5,9.0),(102.4,9.75),(103.3,9.5),(104.3,10.2),(105.2,10.2),(106.3,9.35),(107.4,10.0),(108.4,10.9),
 (110,9.9),(111,9.7),(111.9,10.7),(112.9,10.55),(114,9.3),(115,9.5),(116.1,10.2),(117,9.45),(118.1,8.85),(119,9.4),(120.1,9.8),(121.1,9.15),(122,9.1),(123.1,10.45),(124,9.8),(125.1,9.15),(126,9.8),(126.9,10.5),(128.1,9.85),(129,9.8),(130.1,10.6),(131.1,9.85),(132,9.3),(133.1,9.1),(134.2,8.7),(135.1,8.45),(136.1,7.55),(137.1,7.5),(138.2,7.1),(139.2,7.3),(140.3,7.55),(141.2,7.85),(142.2,7.95),(143,8.3),(144,8.6),(144.9,8.2),(145.9,7.9),(147,8.45),(148.1,8.85),(149,8.6),(150.1,8.05),(151,8.85),(152.1,9.4),(153.1,8.65),(154.1,8.5),(155.1,9.8),(156.1,10.1),(157.1,9.2),(158.1,9.8),(159.2,10.7),(160.1,10.35),(161.2,9.75),(162.3,9.95),(163.2,10.45),(164.2,9.55),(165.2,8.6),(166.2,8.35),(167.3,7.65),(168.3,7.3),(169.3,7.0),(170.3,7.1),(171.4,7.1),(172.3,7.6),(173.2,7.7),(174.2,7.6),(175.1,8.2),(176,8.05),(176.9,8.5),(178,8.8),(179,9.15),(180,9.55),(181.1,10.0),(182.1,9.5),(183.1,8.75),(184.2,9.2),(185.1,10.05),(186.2,8.9),(187.1,8.45),(188.2,9.15),(189.1,9.4),(190.2,8.5),(191.1,8.55),(192.2,9.5),(193.2,9.0),(194.3,7.9),(195.3,7.85),(196.3,9.1),(197.3,8.95),(198.2,8.3),(199.3,8.5),(200.2,7.7),(201.2,7.4),(202.2,7.15),(203.2,7.25),(204.1,7.0),(205.2,7.55),(206.1,7.65),(207.1,8.45),(208.1,8.1),(209.1,7.65),(210.1,8.55),(211.1,8.6),(212.1,8.1),(213.2,8.9),(214.1,9.5),(215.2,9.45),(216.1,9.15),(217.2,9.2),(218.3,10.05),
 (219,9.45),(220,10.1),(220.9,9.6),(221.9,8.6),(222.9,8.3),(223.9,7.55),(224.9,7.85),(225.9,8.2),(226.8,7.8),(227.9,7.2),(228.9,7.6),(229.9,7.65),(231,7.1),(232,7.25),(233.1,7.4),(234.2,7.05),(235.2,6.95),(236.2,7.35),(237.2,7.4),(238.1,7.05),(239.2,7.4),(240.1,7.7),(241.1,8.1),(242.1,8.3),(243.1,8.0),(244.2,8.75),(245,9.95),(245.9,10.0),(247,10.85),(248.1,8.65),(249,8.7),(250,8.5),(251,8.25),(252,7.95),(253,8.7),(254,8.7),(255,8.05),(255.9,8.1),(257,8.65),(257.9,8.2),(259,7.6),(260.1,7.95),(261.3,8.3),(262.2,8.6),(263.3,8.9),(264.2,8.5),(265.1,7.95),(266.1,7.9),(267,7.45),(268.1,7.4),(269,7.55),(270.1,7.25),(271.1,7.55),(272.1,8.0),(273.1,8.6),(274.1,8.8),(275.1,8.8),(276.1,9.5),(277,10.0),(278.1,10.2),(279,11.15),(280,12.25),(281.1,12.0),(282.1,14.4),(283.1,15.65),(284.1,14.45),(285.1,14.45),(286.1,10.75),(287,11.1),(288.1,10.65),(289,10.65),(290.1,10.65),(291,9.8),(292.1,9.55),(293.1,9.75),(294.2,8.95),(295.2,8.5),(296.2,8.65),(297.2,8.8),(298.1,8.25),(299.2,8.35),(300.1,8.2),(301.3,7.55),(302.1,7.0),(303.3,7.55),(304.2,8.2),(305.1,8.0),(306.1,8.65),(307,8.05),(307.9,9.3),(308.9,8.8),(310,8.35),(311,8.35),(312.1,8.0),(313.1,8.05),(314.1,7.7),(315.2,7.7),(316.2,7.7),(317.2,8.15),(318.1,7.9),(319.2,8.8),(320.1,8.5),(321.1,9.4),(322.1,10.15),(323.1,9.85),(324.2,11.0),(325.2,10.85),
 (326.3,12.05),(327.1,11.3),(328.1,10.1),(329,10.75),(330.1,11.0),(331,10.4),(332,9.6),(333,10.4),(334,10.8),(334.9,9.95),(336,9.8),(337.1,10.85),(338,11.0),(339,9.75),(340,9.65),(341.1,10.1),(342.1,8.4),(343.2,8.4),(344.1,8.5),(345.1,9.05),(346.1,9.05),(347.1,8.55),(348.1,8.8),(349,8.15),(350,8.25),(351,8.25),(352,8.45),(353.1,8.65),(354,8.5),(355.1,9.0),(356,8.85),(357.1,10.1),(358,9.4),(359,9.3),(360.1,8.7),(361,8.7),(362.1,8.55),(363,8.3),(364.1,8.7),(365.1,9.0),(366.2,8.85),(367.1,8.9),(368.2,8.75),(369.1,9.4),(370.1,9.95),(371.1,9.65),(372.1,10.35),(373.1,9.8),(374,8.85),(375.1,8.4),(376.1,7.7),(377.1,7.75),(378.1,7.5),(379,7.55),(380.1,7.65),(381.3,7.85),(382.3,8.15),(383.2,8.1),(384.3,7.75),(385.2,8.3),(386.2,8.85),(387.1,8.45),(388.2,8.9),(389.3,9.2),(390.2,9.3),(391.2,9.7),(392.1,10.05),(393.2,10.8),(394.1,10.4),(395.2,10.8),(396.3,11.15),(397.2,11.2),(398.3,11.4),(399.2,11.9),(400.1,12.65),(401.3,12.9),(402.1,13.15),(403.1,12.3),(404,11.45),(405.1,12.05),(406.2,13.25),(407.1,11.2),(408.1,10.8),(409.2,12.5),(410.1,12.25),(411.3,11.3),(412.3,12.0),(413.2,11.45),(414.3,12.95),(415.2,13.25),(416.3,12.55),(417.3,11.8),(418.3,11.2),(419.3,12.0),(420.4,11.6),(421.3,10.4),(422.2,11.2),(423.3,11.35),(424.3,9.85),(425.3,9.5),(426.3,10.25),(427.2,9.9),(428.2,8.8),(429.2,9.45),(430.3,9.9),(431.3,9.4),(432.3,8.95),(433.2,9.75),(434.2,9.75),(435.2,9.2),(436.2,9.55),(437.3,9.2)]

X_LABELS = [0, 50, 100, 150, 200, 250, 300, 350, 400]
X_MINOR = [25, 75, 125, 175, 225, 275, 325, 375, 425]
Y_LABELS = [4, 10, 16, 22]
Y_MAJOR_INNER = [10, 16]
Y_MINOR = [7, 13, 19]
Y_RIGHT = [7, 10, 13, 16, 19]
X_DOMAIN = [0, 440]
Y_DOMAIN = [4, 22]

FONT = "Liberation Sans, Arial, Helvetica, sans-serif"
W, H = 3981, 1159
LINE_W = 5.5


def df_of(pairs):
    return pd.DataFrame(pairs, columns=["residue", "rmsf"])


def panel(black, blue, red, with_title):
    xs = alt.Scale(domain=X_DOMAIN, nice=False, zero=False)
    ys = alt.Scale(domain=Y_DOMAIN, nice=False, zero=False)
    xaxis_kw = dict(values=X_LABELS, ticks=False, tickSize=0, domain=False, grid=False,
                    labelFontSize=96, labelPadding=37, labelFlush=False, labelColor="black",
                    labelFont=FONT, labelOverlap=False)
    if with_title:
        xaxis_kw.update(title="Residues", titleFontSize=105, titleFont=FONT,
                        titleFontWeight="normal", titleColor="black", titlePadding=48)
    else:
        xaxis_kw.update(title="")
    xaxis = alt.Axis(**xaxis_kw)
    yaxis = alt.Axis(values=Y_LABELS, ticks=False, tickSize=0, domain=False, grid=False,
                     labelFontSize=96, labelPadding=42, labelColor="black", labelFont=FONT,
                     labelOverlap=False, labelFlush=False,
                     title="RMSF (A)", titleFontSize=105, titleFont=FONT,
                     titleFontWeight="normal", titleColor="black", titlePadding=20,
                     titleY=H * 0.435)

    layers = []
    for pairs, col in [(black, "#000000"), (blue, "#0000ff"), (red, "#ff0000")]:
        layers.append(alt.Chart(df_of(pairs)).mark_line(color=col, strokeWidth=LINE_W,
                                                        strokeJoin="round").encode(
            x=alt.X("residue:Q", scale=xs, axis=xaxis),
            y=alt.Y("rmsf:Q", scale=ys, axis=yaxis)))

    # inward ticks (drawn from the tick values through the same scales)
    tick = dict(color="black", strokeWidth=6)
    left_major = alt.Chart(pd.DataFrame({"rmsf": Y_MAJOR_INNER})).mark_rule(**tick).encode(
        y=alt.Y("rmsf:Q", scale=ys, axis=yaxis), x=alt.value(0), x2=alt.value(34))
    left_minor = alt.Chart(pd.DataFrame({"rmsf": Y_MINOR})).mark_rule(**tick).encode(
        y=alt.Y("rmsf:Q", scale=ys, axis=yaxis), x=alt.value(0), x2=alt.value(17))
    right_t = alt.Chart(pd.DataFrame({"rmsf": Y_RIGHT})).mark_rule(**tick).encode(
        y=alt.Y("rmsf:Q", scale=ys, axis=yaxis), x=alt.value(W), x2=alt.value(W - 32))
    bot_major = alt.Chart(pd.DataFrame({"residue": X_LABELS[1:]})).mark_rule(**tick).encode(
        x=alt.X("residue:Q", scale=xs, axis=xaxis), y=alt.value(H), y2=alt.value(H - 31))
    bot_minor = alt.Chart(pd.DataFrame({"residue": X_MINOR})).mark_rule(**tick).encode(
        x=alt.X("residue:Q", scale=xs, axis=xaxis), y=alt.value(H), y2=alt.value(H - 15))

    return alt.layer(*layers, left_major, left_minor, right_t, bot_major, bot_minor).properties(
        width=W, height=H)


top = panel(TOP_BLACK, TOP_BLUE, TOP_RED, False)
bottom = panel(BOT_BLACK, BOT_BLUE, BOT_RED, True)

chart = alt.vconcat(top, bottom, spacing=130).properties(
    padding={"left": 14, "top": -59, "right": 0, "bottom": -20},
    background="white",
).configure_view(stroke="black", strokeWidth=7)

chart.save("out.html", embed_options={"renderer": "svg", "actions": False})
